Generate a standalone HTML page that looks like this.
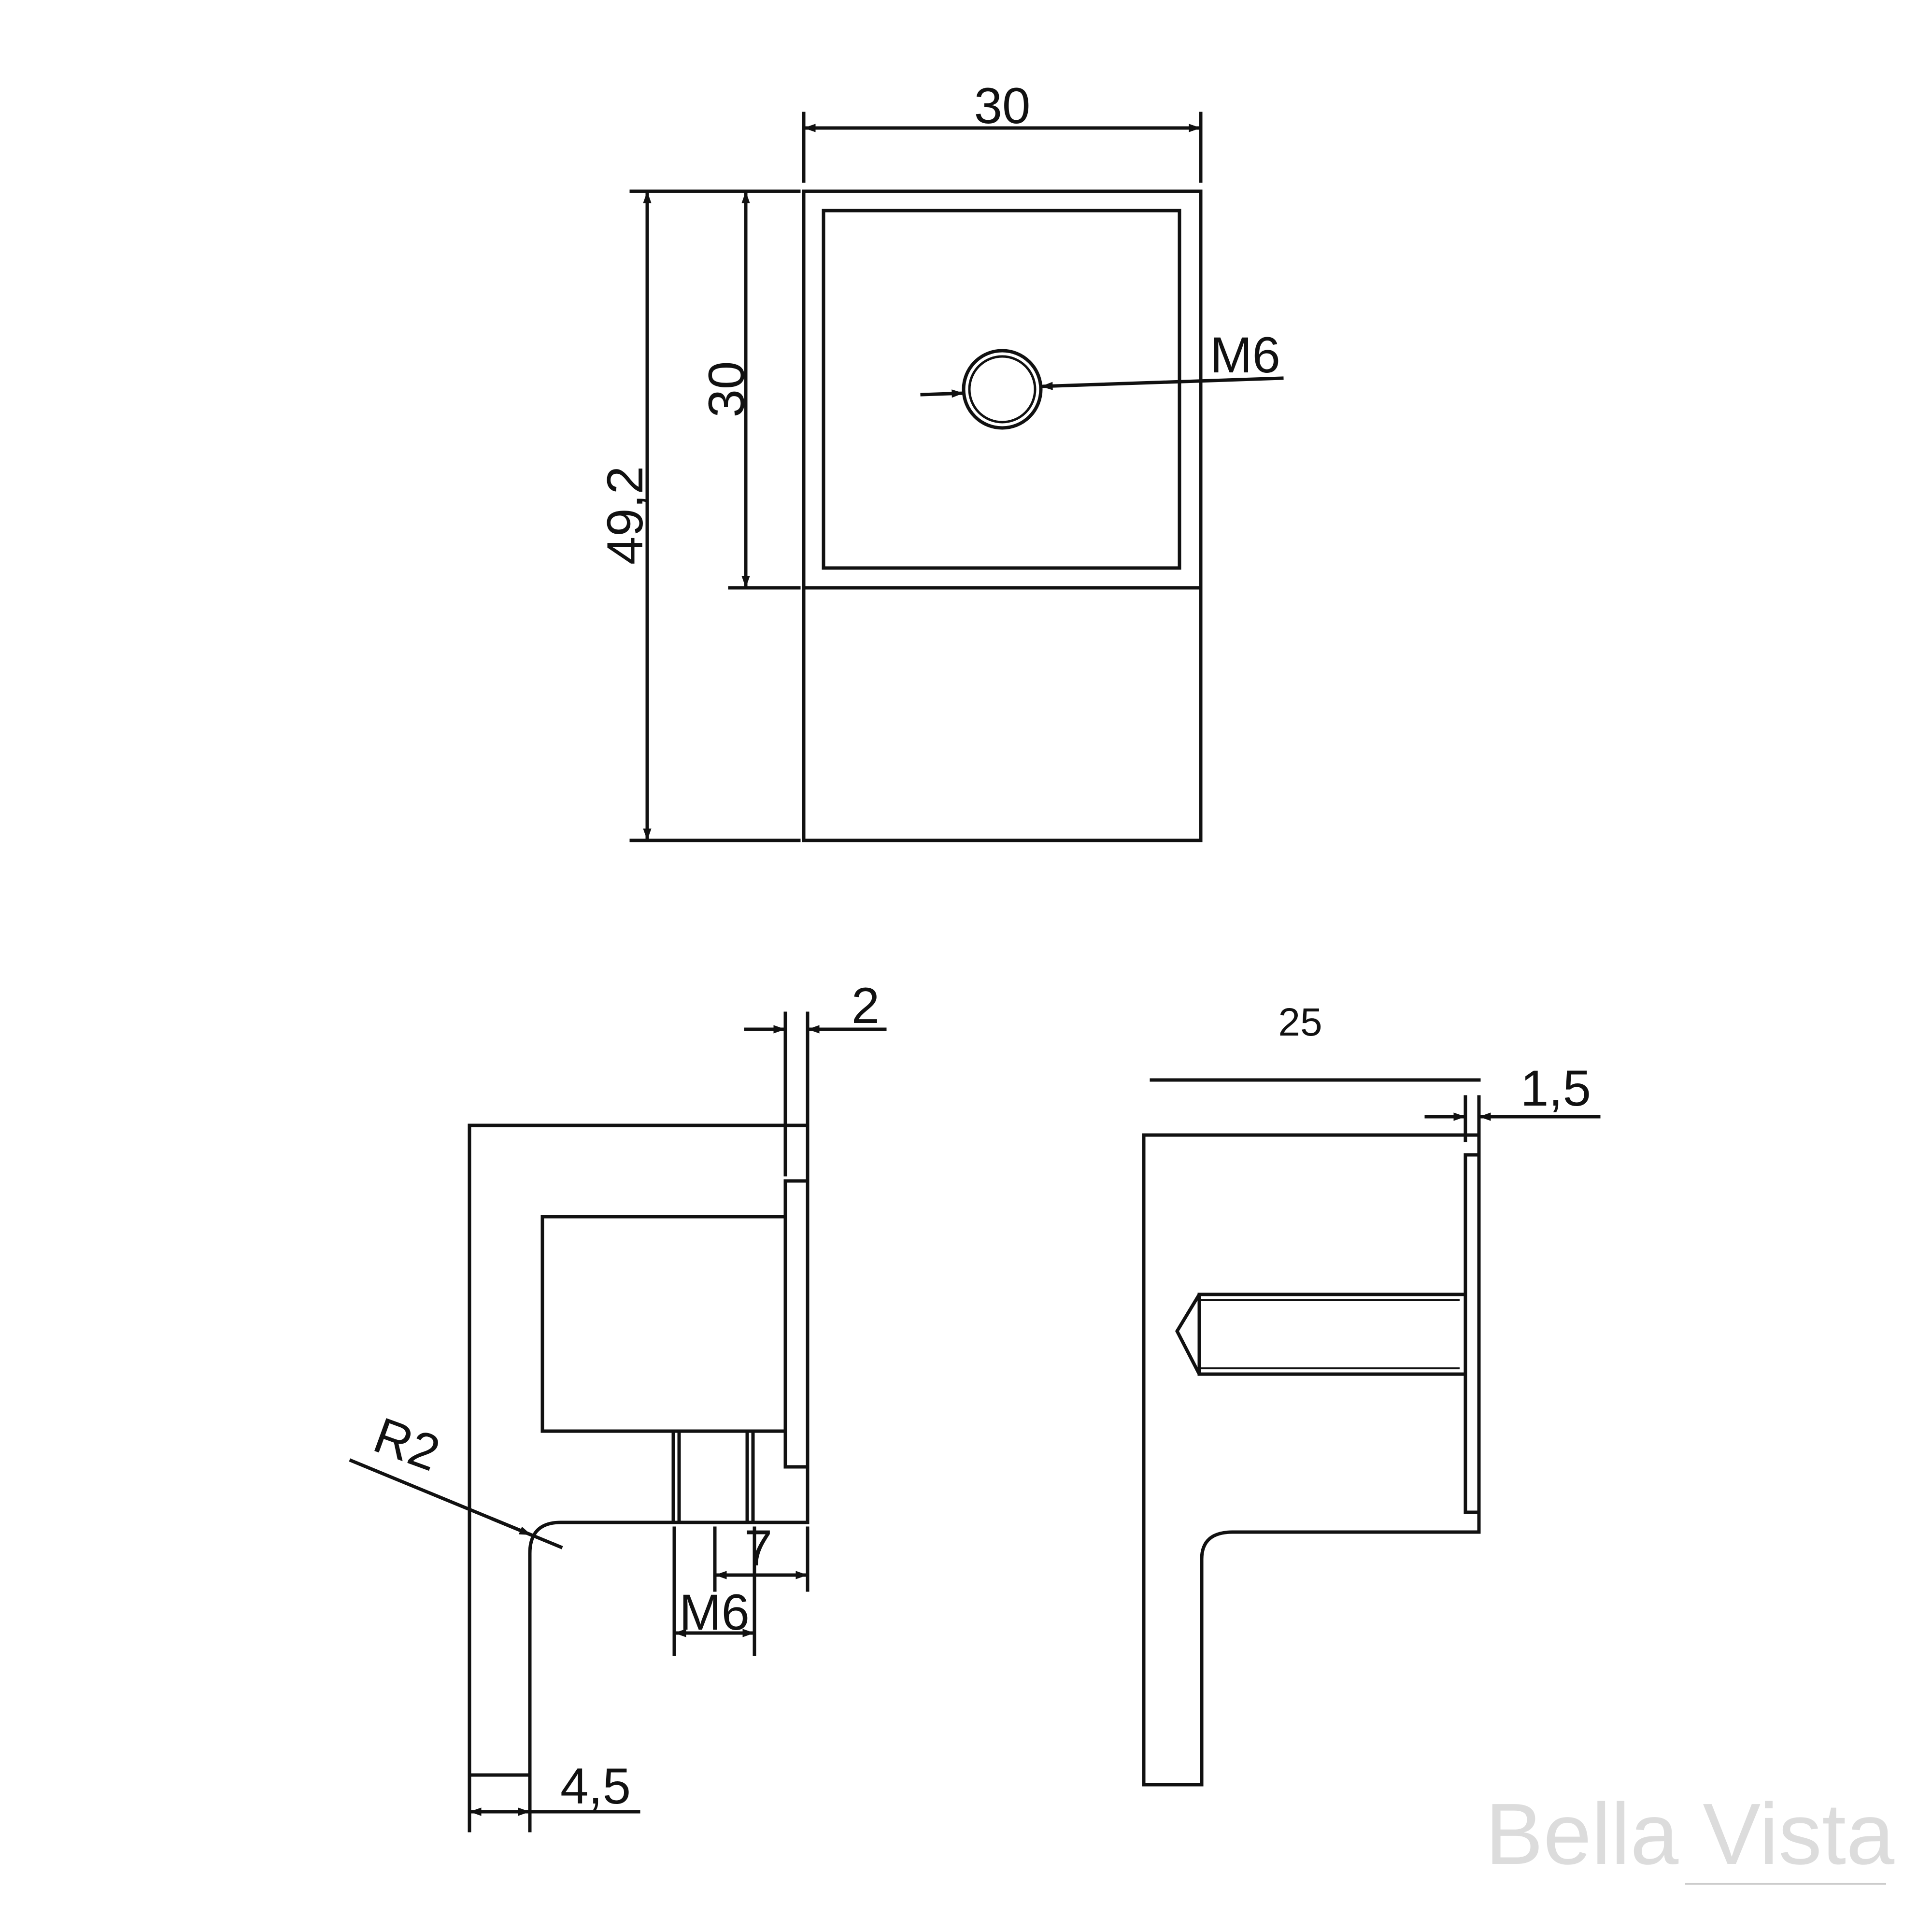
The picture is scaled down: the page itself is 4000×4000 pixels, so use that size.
<!DOCTYPE html>
<html><head><meta charset="utf-8"><style>html,body{margin:0;padding:0;background:#fff}svg{display:block}</style></head>
<body>
<svg width="4000" height="4000" viewBox="0 0 4000 4000" xmlns="http://www.w3.org/2000/svg">
<defs>
<marker id="a" viewBox="0 0 10 10" refX="10" refY="5" markerWidth="9" markerHeight="3.5" orient="auto-start-reverse" markerUnits="strokeWidth"><path d="M0,1.5 L10,5 L0,8.5 z" fill="#111"/></marker>
</defs>
<g stroke="#111" stroke-width="7" fill="none" stroke-linecap="square">
<!-- top view -->
<rect x="1664" y="396" width="822" height="1344"/>
<line x1="1664" y1="1217" x2="2486" y2="1217"/>
<rect x="1705" y="436" width="737" height="740"/>
<circle cx="2075" cy="806" r="80"/>
<circle cx="2075" cy="806" r="68" stroke-width="5"/>
<line x1="1664" y1="235" x2="1664" y2="375"/>
<line x1="2486" y1="235" x2="2486" y2="375"/>
<line x1="1664" y1="265" x2="2486" y2="265" marker-start="url(#a)" marker-end="url(#a)"/>
<line x1="1307" y1="396" x2="1654" y2="396"/>
<line x1="1307" y1="1740" x2="1654" y2="1740"/>
<line x1="1340" y1="396" x2="1340" y2="1740" marker-start="url(#a)" marker-end="url(#a)"/>
<line x1="1511" y1="1217" x2="1654" y2="1217"/>
<line x1="1544" y1="396" x2="1544" y2="1217" marker-start="url(#a)" marker-end="url(#a)"/>
<line x1="1909" y1="817" x2="1995" y2="814" marker-end="url(#a)"/>
<line x1="2654" y1="783" x2="2155" y2="800" marker-end="url(#a)"/>
<!-- left side view -->
<path d="M1672,2330 L972,2330 L972,3675 L1097,3675 L1097,3216 Q1097,3152 1161,3152 L1672,3152 L1672,2098"/>
<line x1="1626" y1="2098" x2="1626" y2="2432"/>
<rect x="1626" y="2445" width="46" height="592"/>
<rect x="1123" y="2519" width="503" height="444"/>
<line x1="1394" y1="2963" x2="1394" y2="3152"/><line x1="1406" y1="2963" x2="1406" y2="3152"/>
<line x1="1547" y1="2963" x2="1547" y2="3152"/><line x1="1559" y1="2963" x2="1559" y2="3152"/>
<line x1="1544" y1="2131" x2="1626" y2="2131" marker-end="url(#a)"/>
<line x1="1832" y1="2131" x2="1672" y2="2131" marker-end="url(#a)"/>
<line x1="1480" y1="3164" x2="1480" y2="3292"/>
<line x1="1672" y1="3164" x2="1672" y2="3292"/>
<line x1="1480" y1="3261" x2="1672" y2="3261" marker-start="url(#a)" marker-end="url(#a)"/>
<line x1="1396" y1="3164" x2="1396" y2="3425"/>
<line x1="1562" y1="3164" x2="1562" y2="3425"/>
<line x1="1396" y1="3381" x2="1562" y2="3381" marker-start="url(#a)" marker-end="url(#a)"/>
<line x1="972" y1="3680" x2="972" y2="3790"/>
<line x1="1097" y1="3680" x2="1097" y2="3790"/>
<line x1="972" y1="3751" x2="1097" y2="3751" marker-start="url(#a)" marker-end="url(#a)"/>
<line x1="1097" y1="3751" x2="1322" y2="3751"/>
<line x1="727" y1="3024" x2="1161" y2="3203"/>
<line x1="1020" y1="3145" x2="1100" y2="3178" marker-end="url(#a)"/>
<!-- right side view -->
<path d="M3062,2350 L2368,2350 L2368,3695 L2488,3695 L2488,3228 Q2488,3172 2552,3172 L3062,3172 L3062,2271"/>
<line x1="3034" y1="2271" x2="3034" y2="2361"/>
<rect x="3034" y="2391" width="28" height="740"/>
<path d="M3034,2680 L2483,2680 L2437,2756 L2483,2845 L3034,2845"/>
<line x1="2483" y1="2680" x2="2483" y2="2845"/>
<line x1="2483" y1="2692" x2="3020" y2="2692" stroke-width="4"/>
<line x1="2483" y1="2833" x2="3020" y2="2833" stroke-width="4"/>
<line x1="2384" y1="2236" x2="3062" y2="2236"/>
<line x1="2953" y1="2312" x2="3034" y2="2312" marker-end="url(#a)"/>
<line x1="3310" y1="2312" x2="3062" y2="2312" marker-end="url(#a)"/>
</g>
<g font-family="Liberation Sans, sans-serif" fill="#111">
<text x="2075" y="255" font-size="105" text-anchor="middle">30</text>
<text x="2578" y="771" font-size="105" text-anchor="middle">M6</text>
<text transform="translate(1330,1067) rotate(-90)" font-size="105" text-anchor="middle">49,2</text>
<text transform="translate(1540,806) rotate(-90)" font-size="105" text-anchor="middle">30</text>
<text x="1792" y="2118" font-size="105" text-anchor="middle">2</text>
<text x="1570" y="3241" font-size="105" text-anchor="middle">7</text>
<text x="1479" y="3374" font-size="105" text-anchor="middle">M6</text>
<text x="1233" y="3734" font-size="105" text-anchor="middle">4,5</text>
<text transform="translate(830,3024) rotate(20)" font-size="105" text-anchor="middle">R2</text>
<text x="2692" y="2144" font-size="82" text-anchor="middle">25</text>
<text x="3221" y="2289" font-size="105" text-anchor="middle">1,5</text>
<text x="3075" y="3859" font-size="180" fill="#dcdcdc">Bella Vista</text>
</g>
<line x1="3489" y1="3900" x2="3905" y2="3900" stroke="#ccc" stroke-width="4"/>
</svg>
</body></html>
